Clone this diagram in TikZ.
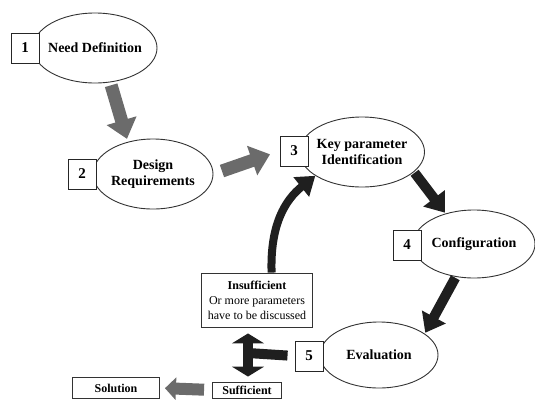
\documentclass[tikz,border=0pt]{standalone}
\usepackage{fontspec}
\setmainfont{Liberation Serif}[BoldFont={Liberation Serif Bold}]
\usetikzlibrary{shapes.geometric,arrows.meta}

\tikzset{
  bubble/.style={ellipse, draw=black!80, line width=0.9pt, fill=white,
    inner xsep=-4pt, inner ysep=0pt, align=center,
    font=\bfseries\fontsize{14}{16}\selectfont},
  numbox/.style={rectangle, draw=black!85, line width=1pt, fill=white,
    minimum width=28pt, minimum height=30pt, inner sep=0pt,
    font=\bfseries\fontsize{15}{15}\selectfont},
  msgbox/.style={rectangle, draw=black!80, line width=0.9pt, align=center,
    inner sep=1pt, font=\fontsize{12}{15}\selectfont},
  grayarrow/.style={draw=black!58, line width=13pt,
    -{Triangle[length=19pt,width=30pt]}},
  darkarrow/.style={draw=black!88, line width=10pt,
    -{Triangle[length=18pt,width=26pt]}},
}

\begin{document}
\begin{tikzpicture}[x=1pt, y=-1pt]
    \useasboundingbox (0,0) rectangle (535,400);

    \node[bubble, minimum width=124pt, minimum height=70pt] (need) at (95,48) {Need Definition};
    \node[numbox] (n1) at (25,48) {1};
    \node[bubble, minimum width=120pt, minimum height=70pt] (req) at (153,174) {Design\\Requirements};
    \node[numbox] (n2) at (82,174) {2};
    \node[bubble, minimum width=125pt, minimum height=70pt] (key) at (362,152) {Key parameter\\Identification};
    \node[numbox] (n3) at (294,151) {3};
    \node[bubble, minimum width=122pt, minimum height=68pt] (conf) at (474,244) {Configuration};
    \node[numbox] (n4) at (407,245) {4};
    \node[bubble, minimum width=118pt, minimum height=66pt] (eval) at (379,355) {Evaluation};
    \node[numbox] (n5) at (309,356) {5};

    \node[msgbox, minimum width=111pt, minimum height=54pt] (insuf) at (257,300)
        {\textbf{Insufficient}\\Or more parameters\\have to be discussed};
    \node[msgbox, minimum width=69pt, minimum height=16pt] (suf) at (247,390) {\textbf{Sufficient}};
    \node[msgbox, minimum width=87pt, minimum height=21pt] (sol) at (116,388) {\textbf{Solution}};
    \coordinate (tj) at (248,353);

    \draw[grayarrow, shorten <=3pt, shorten >=3pt] (need.-66) -- (req.128);
    \draw[grayarrow, shorten <=9pt, shorten >=10pt] (req.east) -- (n3.west);
    \draw[darkarrow, shorten <=1pt, shorten >=1pt] (key.-21) -- (conf.133);
    \draw[darkarrow, shorten <=1pt, shorten >=1pt] (conf.-119) -- (eval.25);
    \draw[draw=black!88, line width=8pt, -{Triangle[length=18pt,width=24pt]}]
        (insuf.62) .. controls (270,225) and (285,200) .. (key.207);
    \draw[draw=black!88, line width=10pt, {Triangle[length=10pt,width=32pt]}-{Triangle[length=10pt,width=32pt]},
        shorten <=6pt, shorten >=5pt] (tj |- insuf.south) -- (tj |- suf.north);
    \draw[draw=black!88, line width=10pt, shorten <=7pt] (n5.west) -- (tj);
    \draw[draw=black!58, line width=12pt, -{Triangle[length=11pt,width=22pt]},
        shorten <=8pt, shorten >=5pt] (suf.west) -- (sol.east);
\end{tikzpicture}
\end{document}
